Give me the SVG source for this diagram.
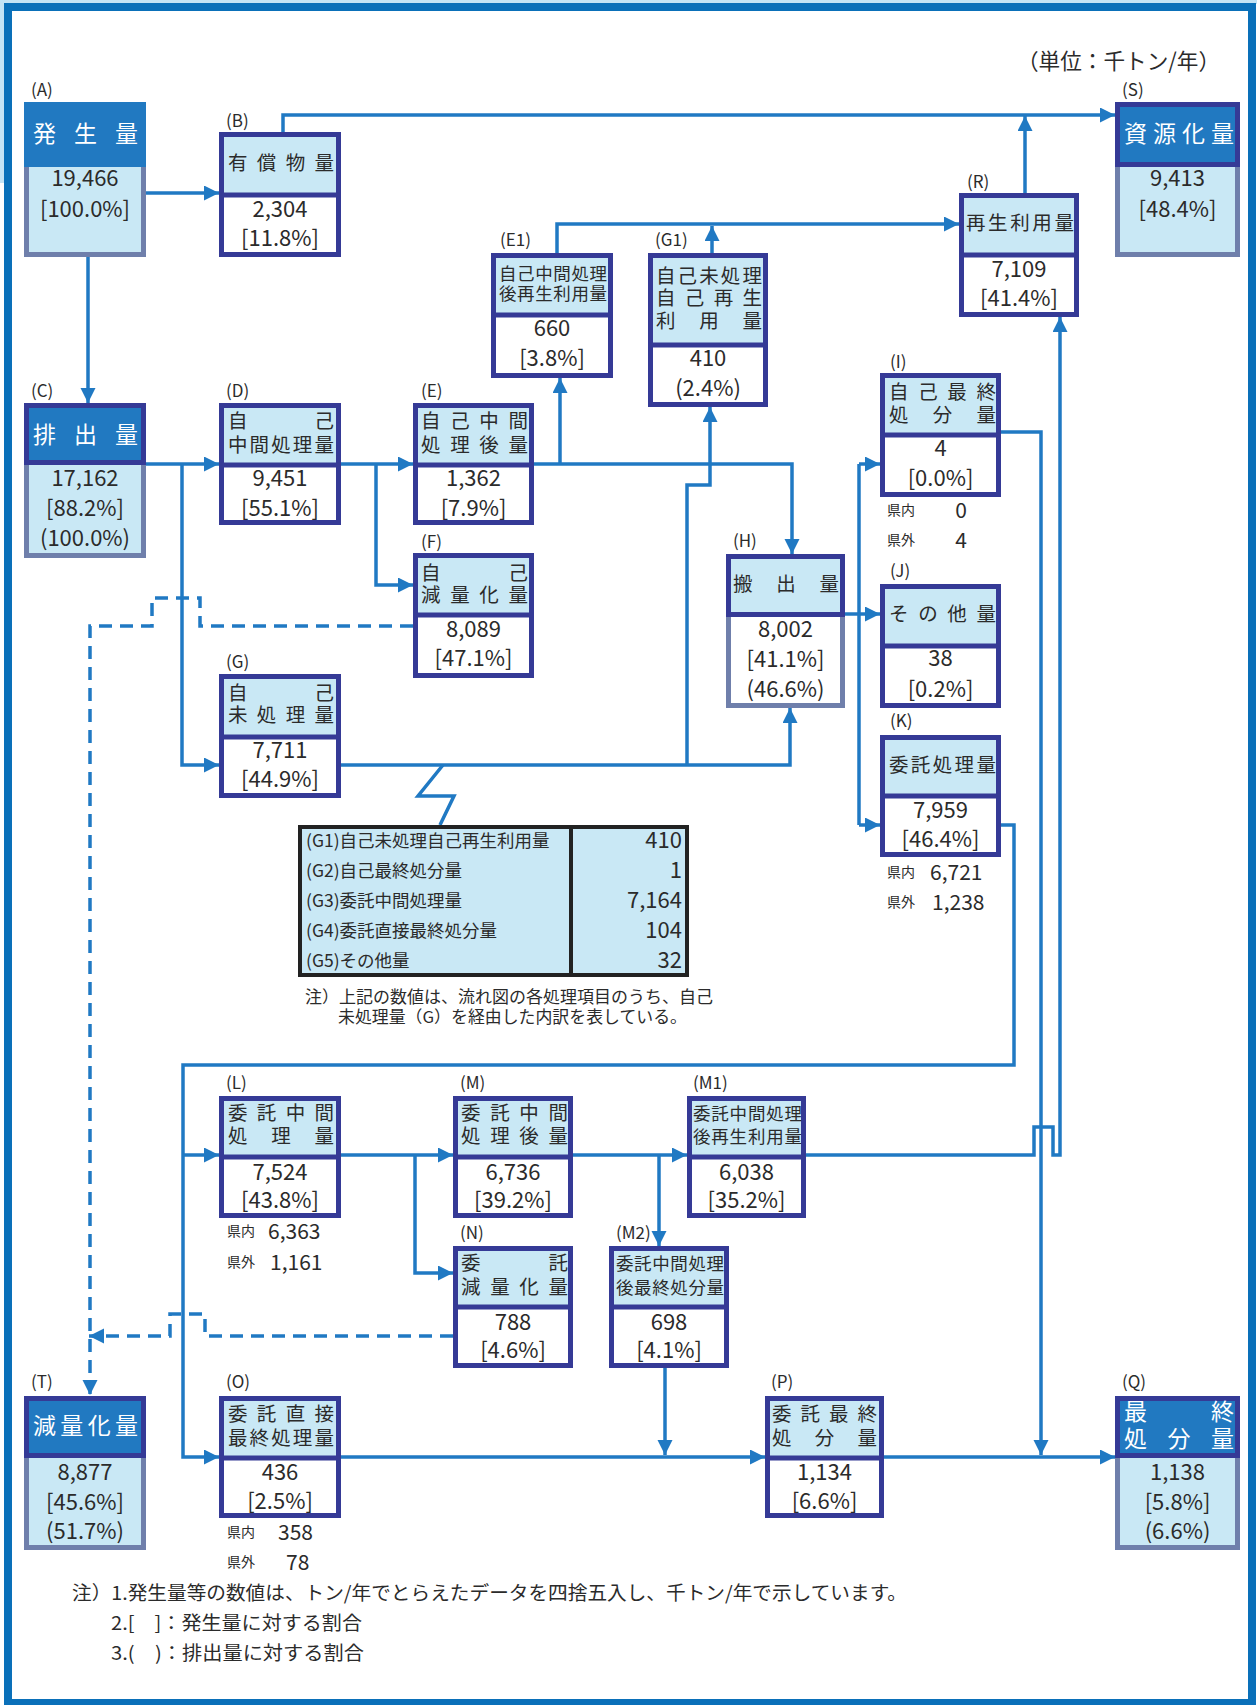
<svg xmlns="http://www.w3.org/2000/svg" width="1257" height="1705" viewBox="0 0 1257 1705">
<style>
.t{font-family:"Noto Sans CJK JP","Noto Sans",sans-serif;fill:#2b2b2b}
.h{font-size:19.5px}
.h18{font-size:17.5px}
.hw{font-size:23px;fill:#fff}
.n{font-size:22px;text-anchor:middle}
.lb{font-size:17px}
.sm{font-size:14px}
.v{font-size:21px}
.tb{font-size:17.5px}
.tv{font-size:22px;text-anchor:end}
.note{font-size:16.5px}
.note2{font-size:19px}
.hf{fill:#c9e8f5}
.ob{fill:none;stroke:#353a96;stroke-width:5}
.dv{stroke:#353a96;stroke-width:5}
.mb{fill:#c9e8f5;stroke:#6f7fab;stroke-width:5}
.mbw{fill:#fff;stroke:#6f7fab;stroke-width:5}
.mh{fill:#2179c1;stroke:#353a96;stroke-width:5}
.c{fill:none;stroke:#2079c3;stroke-width:3.5}
.d{stroke-dasharray:13 8}
</style>
<defs>
<marker id="ar" markerWidth="16" markerHeight="16" refX="15" refY="7.5" orient="auto" markerUnits="userSpaceOnUse"><path d="M0,0 L15,7.5 L0,15 z" fill="#2079c3"/></marker>
</defs>
<rect x="0" y="0" width="1257" height="1705" fill="#fff"/>
<rect x="0" y="0" width="1257" height="4" fill="#c4e4f5"/>
<rect x="0" y="0" width="4" height="183" fill="#c4e4f5"/>
<rect x="8" y="7" width="1244" height="1696" fill="none" stroke="#0a70b9" stroke-width="8"/>
<text class="t" x="1017" y="69" font-size="22" textLength="203" lengthAdjust="spacingAndGlyphs">（単位：千トン/年）</text>

<g id="connectors">
<path class="c" d="M146 193 H219" marker-end="url(#ar)"/>
<path class="c" d="M88 257 V403" marker-end="url(#ar)"/>
<path class="c" d="M283 132 V115 H1115" marker-end="url(#ar)"/>
<path class="c" d="M1025 193 V116" marker-end="url(#ar)"/>
<path class="c" d="M557 253 V224 H959" marker-end="url(#ar)"/>
<path class="c" d="M712 253 V226" marker-end="url(#ar)"/>
<path class="c" d="M146 464 H219" marker-end="url(#ar)"/>
<path class="c" d="M182 464 V765 H219" marker-end="url(#ar)"/>
<path class="c" d="M341 464 H413" marker-end="url(#ar)"/>
<path class="c" d="M376 464 V585 H413" marker-end="url(#ar)"/>
<path class="c" d="M534 464 H792 V554" marker-end="url(#ar)"/>
<path class="c" d="M560 464 V378" marker-end="url(#ar)"/>
<path class="c" d="M341 765 H790 V708" marker-end="url(#ar)"/>
<path class="c" d="M687 765 V485 H710 V407" marker-end="url(#ar)"/>
<path class="c" d="M845 614 H880" marker-end="url(#ar)"/>
<path class="c" d="M859 464 V825"/>
<path class="c" d="M859 464 H880" marker-end="url(#ar)"/>
<path class="c" d="M859 825 H880" marker-end="url(#ar)"/>
<path class="c" d="M1001 432 H1041 V1455" marker-end="url(#ar)"/>
<path class="c" d="M806 1155 H1034 V1127 H1053 V1155 H1060 V317" marker-end="url(#ar)"/>
<path class="c" d="M1001 825 H1014 V1065 H183 V1457 H219" marker-end="url(#ar)"/>
<path class="c" d="M183 1155 H219" marker-end="url(#ar)"/>
<path class="c" d="M341 1155 H453" marker-end="url(#ar)"/>
<path class="c" d="M415 1155 V1273 H453" marker-end="url(#ar)"/>
<path class="c" d="M573 1155 H687" marker-end="url(#ar)"/>
<path class="c" d="M659 1155 V1246" marker-end="url(#ar)"/>
<path class="c" d="M665 1368 V1455" marker-end="url(#ar)"/>
<path class="c" d="M341 1457 H765" marker-end="url(#ar)"/>
<path class="c" d="M884 1457 H1115" marker-end="url(#ar)"/>
<path class="c d" d="M413 626 H200 V598 H152 V626 H90 V1395" marker-end="url(#ar)"/>
<path class="c d" d="M453 1336 H205 V1314 H170 V1336 H89" marker-end="url(#ar)"/>
<path class="c" stroke-width="3" d="M443 765 L418 796 H454 L440 825"/>
</g>

<g id="A">
<rect class="mb" x="26.5" y="104.5" width="117" height="150"/>
<rect x="24" y="102" width="122" height="65" fill="#2179c1"/>
<text class="t hw" x="33" y="141.5" textLength="105" lengthAdjust="spacing">発生量</text>
<text class="t n" x="85" y="186">19,466</text>
<text class="t n" x="85" y="217">[100.0%]</text>
<text class="t lb" x="31" y="96">(A)</text>
</g>

<g id="B">
<rect class="hf" x="219" y="132" width="122" height="63"/>
<rect class="ob" x="221.5" y="134.5" width="117" height="120"/>
<line class="dv" x1="219" y1="195" x2="341" y2="195"/>
<text class="t h" x="228" y="170.4" textLength="106" lengthAdjust="spacing">有償物量</text>
<text class="t n" x="280" y="217">2,304</text>
<text class="t n" x="280" y="246">[11.8%]</text>
<text class="t lb" x="226" y="127">(B)</text>
</g>

<g id="C">
<rect class="mb" x="26.5" y="405.5" width="117" height="150"/>
<rect class="mh" x="26.5" y="405.5" width="117" height="57"/>
<text class="t hw" x="33" y="442.5" textLength="105" lengthAdjust="spacing">排出量</text>
<text class="t n" x="85" y="486">17,162</text>
<text class="t n" x="85" y="516">[88.2%]</text>
<text class="t n" x="85" y="546">(100.0%)</text>
<text class="t lb" x="31" y="397">(C)</text>
</g>

<g id="D">
<rect class="hf" x="219" y="403" width="122" height="62"/>
<rect class="ob" x="221.5" y="405.5" width="117" height="117"/>
<line class="dv" x1="219" y1="465" x2="341" y2="465"/>
<text class="t h" x="228" y="428.4" textLength="106" lengthAdjust="spacing">自己</text>
<text class="t h" x="228" y="452.4" textLength="106" lengthAdjust="spacing">中間処理量</text>
<text class="t n" x="280" y="486">9,451</text>
<text class="t n" x="280" y="516">[55.1%]</text>
<text class="t lb" x="226" y="397">(D)</text>
</g>

<g id="E">
<rect class="hf" x="413" y="403" width="121" height="62"/>
<rect class="ob" x="415.5" y="405.5" width="116" height="117"/>
<line class="dv" x1="413" y1="465" x2="534" y2="465"/>
<text class="t h" x="421" y="428.4" textLength="107" lengthAdjust="spacing">自己中間</text>
<text class="t h" x="421" y="452.4" textLength="107" lengthAdjust="spacing">処理後量</text>
<text class="t n" x="473.5" y="486">1,362</text>
<text class="t n" x="473.5" y="516">[7.9%]</text>
<text class="t lb" x="421" y="397">(E)</text>
</g>

<g id="E1">
<rect class="hf" x="491" y="253" width="122" height="62"/>
<rect class="ob" x="493.5" y="255.5" width="117" height="120"/>
<line class="dv" x1="491" y1="315" x2="613" y2="315"/>
<text class="t h18" x="499" y="279.7" textLength="108" lengthAdjust="spacing">自己中間処理</text>
<text class="t h18" x="499" y="299.7" textLength="108" lengthAdjust="spacing">後再生利用量</text>
<text class="t n" x="552" y="336">660</text>
<text class="t n" x="552" y="366">[3.8%]</text>
<text class="t lb" x="500" y="246">(E1)</text>
</g>

<g id="G1">
<rect class="hf" x="648" y="253" width="120" height="92"/>
<rect class="ob" x="650.5" y="255.5" width="115" height="149"/>
<line class="dv" x1="648" y1="345" x2="768" y2="345"/>
<text class="t h" x="656" y="283.4" textLength="106" lengthAdjust="spacing">自己未処理</text>
<text class="t h" x="656" y="305.4" textLength="106" lengthAdjust="spacing">自己再生</text>
<text class="t h" x="656" y="328.4" textLength="106" lengthAdjust="spacing">利用量</text>
<text class="t n" x="708" y="366">410</text>
<text class="t n" x="708" y="396">(2.4%)</text>
<text class="t lb" x="655" y="246">(G1)</text>
</g>

<g id="R">
<rect class="hf" x="959" y="193" width="120" height="62"/>
<rect class="ob" x="961.5" y="195.5" width="115" height="119"/>
<line class="dv" x1="959" y1="255" x2="1079" y2="255"/>
<text class="t h" x="966" y="230.4" textLength="108" lengthAdjust="spacing">再生利用量</text>
<text class="t n" x="1019" y="277">7,109</text>
<text class="t n" x="1019" y="306">[41.4%]</text>
<text class="t lb" x="967" y="188">(R)</text>
</g>

<g id="S">
<rect class="mb" x="1117.5" y="104.5" width="120" height="150"/>
<rect class="mh" x="1117.5" y="104.5" width="120" height="60"/>
<text class="t hw" x="1124" y="141.5" textLength="110" lengthAdjust="spacing">資源化量</text>
<text class="t n" x="1177.5" y="186">9,413</text>
<text class="t n" x="1177.5" y="217">[48.4%]</text>
<text class="t lb" x="1122" y="96">(S)</text>
</g>

<g id="I">
<rect class="hf" x="880" y="373" width="121" height="62"/>
<rect class="ob" x="882.5" y="375.5" width="116" height="119"/>
<line class="dv" x1="880" y1="435" x2="1001" y2="435"/>
<text class="t h" x="889" y="399.4" textLength="107" lengthAdjust="spacing">自己最終</text>
<text class="t h" x="889" y="422.4" textLength="107" lengthAdjust="spacing">処分量</text>
<text class="t n" x="940.5" y="456">4</text>
<text class="t n" x="940.5" y="486">[0.0%]</text>
<text class="t lb" x="890" y="368">(I)</text>
<text class="t sm" x="887" y="515">県内</text>
<text class="t v" x="961" y="517.5" text-anchor="middle">0</text>
<text class="t sm" x="887" y="545">県外</text>
<text class="t v" x="961" y="547.5" text-anchor="middle">4</text>
</g>

<g id="F">
<rect class="hf" x="413" y="553" width="121" height="62"/>
<rect class="ob" x="415.5" y="555.5" width="116" height="120"/>
<line class="dv" x1="413" y1="615" x2="534" y2="615"/>
<text class="t h" x="421" y="580.4" textLength="107" lengthAdjust="spacing">自己</text>
<text class="t h" x="421" y="602.4" textLength="107" lengthAdjust="spacing">減量化量</text>
<text class="t n" x="473.5" y="637">8,089</text>
<text class="t n" x="473.5" y="666">[47.1%]</text>
<text class="t lb" x="421" y="548">(F)</text>
</g>

<g id="H">
<rect class="mbw" x="728.5" y="556.5" width="114" height="149"/>
<rect class="hf" x="728.5" y="556.5" width="114" height="58" stroke="#353a96" stroke-width="5"/>
<text class="t h" x="733" y="591.4" textLength="106" lengthAdjust="spacing">搬出量</text>
<text class="t n" x="785.5" y="637">8,002</text>
<text class="t n" x="785.5" y="667">[41.1%]</text>
<text class="t n" x="785.5" y="697">(46.6%)</text>
<text class="t lb" x="733" y="547">(H)</text>
</g>

<g id="J">
<rect class="hf" x="880" y="584" width="121" height="62"/>
<rect class="ob" x="882.5" y="586.5" width="116" height="119"/>
<line class="dv" x1="880" y1="646" x2="1001" y2="646"/>
<text class="t h" x="889" y="621.4" textLength="107" lengthAdjust="spacing">その他量</text>
<text class="t n" x="940.5" y="666">38</text>
<text class="t n" x="940.5" y="697">[0.2%]</text>
<text class="t lb" x="890" y="577">(J)</text>
</g>

<g id="G">
<rect class="hf" x="219" y="674" width="122" height="63"/>
<rect class="ob" x="221.5" y="676.5" width="117" height="119"/>
<line class="dv" x1="219" y1="737" x2="341" y2="737"/>
<text class="t h" x="228" y="700.4" textLength="106" lengthAdjust="spacing">自己</text>
<text class="t h" x="228" y="722.4" textLength="106" lengthAdjust="spacing">未処理量</text>
<text class="t n" x="280" y="758">7,711</text>
<text class="t n" x="280" y="787">[44.9%]</text>
<text class="t lb" x="226" y="668">(G)</text>
</g>

<g id="K">
<rect class="hf" x="880" y="735" width="121" height="61"/>
<rect class="ob" x="882.5" y="737.5" width="116" height="117"/>
<line class="dv" x1="880" y1="796" x2="1001" y2="796"/>
<text class="t h" x="889" y="772.4" textLength="107" lengthAdjust="spacing">委託処理量</text>
<text class="t n" x="940.5" y="818">7,959</text>
<text class="t n" x="940.5" y="847">[46.4%]</text>
<text class="t lb" x="890" y="727">(K)</text>
<text class="t sm" x="887" y="877">県内</text>
<text class="t v" x="930" y="879.5">6,721</text>
<text class="t sm" x="887" y="907">県外</text>
<text class="t v" x="932" y="909.5">1,238</text>
</g>

<g id="table">
<rect x="300" y="827" width="387" height="148" fill="#c9e8f5" stroke="#222" stroke-width="4"/>
<line x1="571" y1="825" x2="571" y2="977" stroke="#222" stroke-width="4"/>
<text class="t tb" x="306" y="846.5">(G1)自己未処理自己再生利用量</text>
<text class="t tb" x="306" y="876.5">(G2)自己最終処分量</text>
<text class="t tb" x="306" y="906.5">(G3)委託中間処理量</text>
<text class="t tb" x="306" y="936.5">(G4)委託直接最終処分量</text>
<text class="t tb" x="306" y="966.5">(G5)その他量</text>
<text class="t tv" x="682" y="848">410</text>
<text class="t tv" x="682" y="878">1</text>
<text class="t tv" x="682" y="908">7,164</text>
<text class="t tv" x="682" y="938">104</text>
<text class="t tv" x="682" y="968">32</text>
<text class="t note" x="305" y="1003" textLength="408" lengthAdjust="spacingAndGlyphs">注）上記の数値は、流れ図の各処理項目のうち、自己</text>
<text class="t note" x="338" y="1023" textLength="349" lengthAdjust="spacingAndGlyphs">未処理量（G）を経由した内訳を表している。</text>
</g>

<g id="L">
<rect class="hf" x="219" y="1096" width="122" height="61"/>
<rect class="ob" x="221.5" y="1098.5" width="117" height="117"/>
<line class="dv" x1="219" y1="1157" x2="341" y2="1157"/>
<text class="t h" x="228" y="1120.4" textLength="106" lengthAdjust="spacing">委託中間</text>
<text class="t h" x="228" y="1143.4" textLength="106" lengthAdjust="spacing">処理量</text>
<text class="t n" x="280" y="1180">7,524</text>
<text class="t n" x="280" y="1208">[43.8%]</text>
<text class="t lb" x="226" y="1089">(L)</text>
<text class="t sm" x="227" y="1236">県内</text>
<text class="t v" x="268" y="1238.5">6,363</text>
<text class="t sm" x="227" y="1267">県外</text>
<text class="t v" x="270" y="1269.5">1,161</text>
</g>

<g id="M">
<rect class="hf" x="453" y="1096" width="120" height="61"/>
<rect class="ob" x="455.5" y="1098.5" width="115" height="117"/>
<line class="dv" x1="453" y1="1157" x2="573" y2="1157"/>
<text class="t h" x="461" y="1120.4" textLength="107" lengthAdjust="spacing">委託中間</text>
<text class="t h" x="461" y="1143.4" textLength="107" lengthAdjust="spacing">処理後量</text>
<text class="t n" x="513" y="1180">6,736</text>
<text class="t n" x="513" y="1208">[39.2%]</text>
<text class="t lb" x="460" y="1089">(M)</text>
</g>

<g id="M1">
<rect class="hf" x="687" y="1096" width="119" height="61"/>
<rect class="ob" x="689.5" y="1098.5" width="114" height="117"/>
<line class="dv" x1="687" y1="1157" x2="806" y2="1157"/>
<text class="t h18" x="693" y="1119.7" textLength="109" lengthAdjust="spacing">委託中間処理</text>
<text class="t h18" x="693" y="1142.7" textLength="109" lengthAdjust="spacing">後再生利用量</text>
<text class="t n" x="746.5" y="1180">6,038</text>
<text class="t n" x="746.5" y="1208">[35.2%]</text>
<text class="t lb" x="693" y="1089">(M1)</text>
</g>

<g id="N">
<rect class="hf" x="453" y="1246" width="120" height="61"/>
<rect class="ob" x="455.5" y="1248.5" width="115" height="117"/>
<line class="dv" x1="453" y1="1307" x2="573" y2="1307"/>
<text class="t h" x="461" y="1270.4" textLength="107" lengthAdjust="spacing">委託</text>
<text class="t h" x="461" y="1294.4" textLength="107" lengthAdjust="spacing">減量化量</text>
<text class="t n" x="513" y="1330">788</text>
<text class="t n" x="513" y="1358">[4.6%]</text>
<text class="t lb" x="460" y="1239">(N)</text>
</g>

<g id="M2">
<rect class="hf" x="609" y="1246" width="120" height="61"/>
<rect class="ob" x="611.5" y="1248.5" width="115" height="117"/>
<line class="dv" x1="609" y1="1307" x2="729" y2="1307"/>
<text class="t h18" x="616" y="1269.7" textLength="108" lengthAdjust="spacing">委託中間処理</text>
<text class="t h18" x="616" y="1293.7" textLength="108" lengthAdjust="spacing">後最終処分量</text>
<text class="t n" x="669" y="1330">698</text>
<text class="t n" x="669" y="1358">[4.1%]</text>
<text class="t lb" x="616" y="1239">(M2)</text>
</g>

<g id="T">
<rect class="mb" x="26.5" y="1398.5" width="117" height="149"/>
<rect class="mh" x="26.5" y="1398.5" width="117" height="57"/>
<text class="t hw" x="33" y="1433.5" textLength="105" lengthAdjust="spacing">減量化量</text>
<text class="t n" x="85" y="1480">8,877</text>
<text class="t n" x="85" y="1510">[45.6%]</text>
<text class="t n" x="85" y="1539">(51.7%)</text>
<text class="t lb" x="31" y="1388">(T)</text>
</g>

<g id="O">
<rect class="hf" x="219" y="1396" width="122" height="62"/>
<rect class="ob" x="221.5" y="1398.5" width="117" height="117"/>
<line class="dv" x1="219" y1="1458" x2="341" y2="1458"/>
<text class="t h" x="228" y="1421.4" textLength="106" lengthAdjust="spacing">委託直接</text>
<text class="t h" x="228" y="1445.4" textLength="106" lengthAdjust="spacing">最終処理量</text>
<text class="t n" x="280" y="1480">436</text>
<text class="t n" x="280" y="1509">[2.5%]</text>
<text class="t lb" x="226" y="1388">(O)</text>
<text class="t sm" x="227" y="1537">県内</text>
<text class="t v" x="278" y="1539.5">358</text>
<text class="t sm" x="227" y="1567">県外</text>
<text class="t v" x="286" y="1569.5">78</text>
</g>

<g id="P">
<rect class="hf" x="765" y="1396" width="119" height="62"/>
<rect class="ob" x="767.5" y="1398.5" width="114" height="117"/>
<line class="dv" x1="765" y1="1458" x2="884" y2="1458"/>
<text class="t h" x="772" y="1421.4" textLength="105" lengthAdjust="spacing">委託最終</text>
<text class="t h" x="772" y="1445.4" textLength="105" lengthAdjust="spacing">処分量</text>
<text class="t n" x="824.5" y="1480">1,134</text>
<text class="t n" x="824.5" y="1509">[6.6%]</text>
<text class="t lb" x="771" y="1388">(P)</text>
</g>

<g id="Q">
<rect class="mb" x="1117.5" y="1398.5" width="120" height="149"/>
<rect class="mh" x="1117.5" y="1398.5" width="120" height="57"/>
<text class="t hw" x="1124" y="1420" font-size="22" textLength="110" lengthAdjust="spacing">最終</text>
<text class="t hw" x="1124" y="1447" font-size="22" textLength="110" lengthAdjust="spacing">処分量</text>
<text class="t n" x="1177.5" y="1480">1,138</text>
<text class="t n" x="1177.5" y="1510">[5.8%]</text>
<text class="t n" x="1177.5" y="1539">(6.6%)</text>
<text class="t lb" x="1122" y="1388">(Q)</text>
</g>

<g id="notes">
<text class="t note2" x="72" y="1600" textLength="835" lengthAdjust="spacingAndGlyphs">注）1.発生量等の数値は、トン/年でとらえたデータを四捨五入し、千トン/年で示しています。</text>
<text class="t note2" x="111" y="1630" textLength="251" lengthAdjust="spacingAndGlyphs">2.[　]：発生量に対する割合</text>
<text class="t note2" x="111" y="1660" textLength="253" lengthAdjust="spacingAndGlyphs">3.(　)：排出量に対する割合</text>
</g>
</svg>
